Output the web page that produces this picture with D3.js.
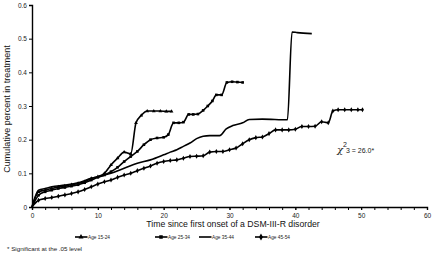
<!DOCTYPE html>
<html>
<head>
<meta charset="utf-8">
<script src="https://cdn.jsdelivr.net/npm/d3@7"></script>
<style>
  body { margin: 0; background: #fff; }
  svg { font-family: "Liberation Sans", Arial, sans-serif; }
</style>
</head>
<body>
<svg id="chart" width="432" height="254"></svg>
<script>
// [time since onset, cumulative proportion in treatment]
const age1524 = [[0,0],[1,0.045],[2,0.05],[3,0.055],[4,0.06],[5,0.063],[6,0.066],[7,0.07],[8,0.075],[9,0.085],[10,0.09],[11,0.1],[12,0.125],[13,0.145],[14,0.163],[15,0.158],[15.8,0.25],[16.6,0.272],[17.5,0.285],[18.5,0.285],[19.5,0.285],[20.4,0.284],[21.2,0.284]];
const age2534 = [[0,0],[1,0.035],[2,0.045],[3,0.05],[4,0.055],[5,0.058],[6,0.062],[7,0.066],[8,0.072],[9,0.08],[10,0.088],[11,0.095],[12,0.105],[13,0.118],[14,0.135],[15,0.15],[16,0.165],[17,0.185],[18,0.2],[19,0.205],[20,0.207],[20.7,0.215],[21.5,0.25],[22.3,0.25],[23,0.252],[23.8,0.275],[24.5,0.275],[25.2,0.276],[26,0.287],[26.7,0.3],[27.4,0.315],[28,0.333],[28.8,0.333],[29.6,0.37],[30.4,0.372],[31.2,0.371],[32,0.37]];
const age3544 = [[0,0],[1,0.05],[2,0.055],[3,0.06],[5,0.065],[7,0.072],[9,0.085],[10,0.09],[12,0.1],[14,0.115],[16,0.13],[18,0.14],[20,0.155],[21,0.163],[22,0.17],[23,0.18],[24,0.19],[25,0.203],[26,0.21],[27,0.212],[28.5,0.212],[29.5,0.232],[30.5,0.242],[32,0.25],[33,0.26],[35,0.261],[38.8,0.259],[39.5,0.52],[40.3,0.518],[42.5,0.515]];
const age4554 = [[0,0],[1,0.02],[2,0.025],[3,0.028],[4,0.032],[5,0.036],[6,0.04],[7,0.045],[8,0.052],[9,0.06],[10,0.068],[11,0.075],[12,0.08],[13,0.088],[14,0.095],[15,0.1],[16,0.108],[17,0.115],[18,0.122],[19,0.13],[20,0.135],[21,0.138],[22,0.14],[23,0.145],[24,0.15],[25,0.151],[26,0.152],[27,0.163],[28,0.165],[29,0.165],[30,0.17],[31,0.175],[32,0.188],[33,0.2],[34,0.206],[35,0.208],[36,0.218],[37,0.229],[38,0.229],[39,0.229],[40,0.231],[41,0.239],[42,0.239],[43,0.24],[44,0.253],[45,0.25],[45.7,0.285],[46.5,0.289],[47.5,0.289],[48.5,0.289],[49.5,0.289],[50.2,0.289]];

const seriesNames = ["Age 15-24", "Age 25-34", "Age 35-44", "Age 45-54"];
const seriesData = [age1524, age2534, age3544, age4554];
const seriesMarkers = ["triangle", "square", "none", "diamond"];

const xTicks = [0, 10, 20, 30, 40, 50, 60];
const yTicks = [0, 0.1, 0.2, 0.3, 0.4, 0.5, 0.6];

const svg = d3.select("#chart");
const margin = { left: 32, top: 5, right: 5, bottom: 47 };
const width = 432 - margin.left - margin.right;
const height = 254 - margin.top - margin.bottom;

const x = d3.scaleLinear().domain([0, 60]).range([0, width]);
const y = d3.scaleLinear().domain([0, 0.6]).range([height, 0]);

const g = svg.append("g").attr("transform", `translate(${margin.left},${margin.top})`);

// minor ticks every 2 units
const xMinor = g.append("g").attr("transform", `translate(0,${height})`)
  .call(d3.axisBottom(x).tickValues(d3.range(0, 61, 2)).tickSize(3).tickFormat(""));
xMinor.select(".domain").remove();

const xAxis = g.append("g").attr("transform", `translate(0,${height})`)
  .call(d3.axisBottom(x).tickValues(xTicks).tickSize(3).tickPadding(3).tickFormat(d3.format("d")));
xAxis.selectAll("text").attr("font-size", 6.5).attr("fill", "#222");

const yAxis = g.append("g")
  .call(d3.axisLeft(y).tickValues(yTicks).tickSize(3).tickPadding(2).tickFormat(d => d === 0 ? "0" : d3.format(".1f")(d)));
yAxis.selectAll("text").attr("font-size", 6.5).attr("fill", "#222");

svg.selectAll(".domain").attr("stroke", "#000").attr("stroke-width", 1.4);
svg.selectAll(".tick line").attr("stroke", "#000");

const line = d3.line().x(d => x(d[0])).y(d => y(d[1])).curve(d3.curveMonotoneX);

function drawMarker(sel, type, size) {
  if (type === "square") sel.append("rect").attr("x", -size / 2).attr("y", -size / 2).attr("width", size).attr("height", size);
  else if (type === "diamond") sel.append("path").attr("d", d3.symbol(d3.symbolDiamond, size * size * 1.1)());
  else if (type === "triangle") sel.append("path").attr("d", d3.symbol(d3.symbolTriangle, size * size * 0.9)());
}

seriesData.forEach((data, i) => {
  g.append("path").datum(data)
    .attr("fill", "none").attr("stroke", "#000").attr("stroke-width", 1.6)
    .attr("stroke-linejoin", "round")
    .attr("d", line);
  if (seriesMarkers[i] !== "none") {
    const pts = g.append("g").selectAll("g").data(data.slice(1)).join("g")
      .attr("transform", d => `translate(${x(d[0])},${y(d[1])})`)
      .attr("fill", "#000");
    pts.each(function () { drawMarker(d3.select(this), seriesMarkers[i], 2.6); });
  }
});

// chi-square annotation
const chi = svg.append("text").attr("x", 337).attr("y", 153).attr("font-size", 7).attr("fill", "#222");
chi.append("tspan").attr("font-family", "DejaVu Serif, serif").attr("font-style", "italic").attr("font-size", 10).text("χ");
chi.append("tspan").attr("dy", -6).attr("dx", 0).attr("font-size", 7).text("2");
chi.append("tspan").attr("dy", 6).attr("dx", -3).text(" 3 = 26.0*");

// axis titles
svg.append("text").attr("x", 233).attr("y", 227).attr("text-anchor", "middle")
  .attr("font-size", 8.7).attr("fill", "#111").text("Time since first onset of a DSM-III-R disorder");
svg.append("text").attr("transform", "translate(10,109) rotate(-90)").attr("text-anchor", "middle")
  .attr("font-size", 9).attr("fill", "#111").text("Cumulative percent in treatment");

// legend
const legendX = [75, 155, 199, 255];
seriesNames.forEach((name, i) => {
  const lg = svg.append("g").attr("transform", `translate(${legendX[i]},237)`);
  lg.append("line").attr("x1", 0).attr("x2", 12.5).attr("stroke", "#000").attr("stroke-width", 1.6);
  if (seriesMarkers[i] !== "none") {
    const m = lg.append("g").attr("transform", "translate(6,0)").attr("fill", "#000");
    drawMarker(m, seriesMarkers[i], 3.5);
  }
  lg.append("text").attr("x", 13).attr("y", 2.2).attr("font-size", 5.8).attr("fill", "#222")
    .attr("textLength", 22).attr("lengthAdjust", "spacingAndGlyphs").text(name);
});

svg.append("text").attr("x", 7).attr("y", 251).attr("font-size", 6).attr("fill", "#222")
  .attr("textLength", 75).attr("lengthAdjust", "spacingAndGlyphs")
  .text("* Significant at the .05 level");
</script>
</body>
</html>
